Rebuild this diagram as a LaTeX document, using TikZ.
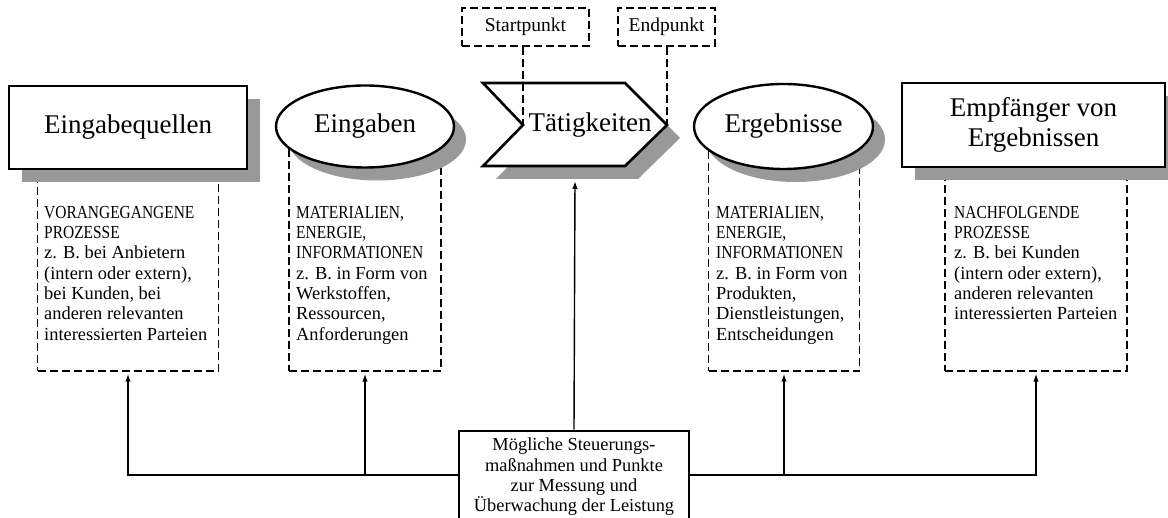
\documentclass[tikz,border=0pt]{standalone}
\usepackage{fontspec}
\setmainfont{Liberation Serif}
\newfontfamily\capfont{Liberation Serif}[FakeStretch=0.84]
\newcommand{\capsline}[1]{{\capfont #1}}
\usetikzlibrary{shadows,arrows.meta,shapes.geometric}
\definecolor{shadowgray}{HTML}{999999}
\tikzset{
  big/.style={font=\fontsize{27}{30}\selectfont},
  small/.style={font=\fontsize{18.4}{20.3}\selectfont},
  mainbox/.style={draw, line width=2.6pt, fill=white, inner sep=0pt, big, align=center,
    drop shadow={shadow xshift=13pt, shadow yshift=-13pt, fill=shadowgray, opacity=1}},
  mainell/.style={ellipse, draw, line width=2.4pt, fill=white, inner sep=0pt, big,
    drop shadow={shadow xshift=12pt, shadow yshift=-13pt, fill=shadowgray, opacity=1}},
  dbox/.style={draw, dash pattern=on 8pt off 4pt, line width=1.3pt, inner sep=0pt},
  sbox/.style={draw, dash pattern=on 8pt off 4pt, line width=1.3pt, inner sep=0pt,
    fill=white, font=\fontsize{19.5}{22}\selectfont},
  dline/.style={dash pattern=on 8pt off 4pt, line width=1.3pt},
  desc/.style={small, align=left, inner sep=0pt, anchor=north west},
  ctrlbox/.style={draw, line width=2.6pt, fill=white, inner sep=0pt, small, align=center,
    minimum width=230pt, minimum height=92pt},
  conn/.style={line width=1.4pt, -{Latex[length=8pt,width=5.5pt]}, shorten >=2pt},
}
\begin{document}
\begin{tikzpicture}[x=1pt,y=-1pt]
\useasboundingbox (0,0) rectangle (1168,518);

% dashed description frames (tops hidden under the shapes)
\node[dbox, minimum width=181pt, minimum height=241pt] (srcd) at (128,250.5) {};
\node[dbox, minimum width=152pt, minimum height=241pt] (ind) at (365,250.5) {};
\node[dbox, minimum width=151pt, minimum height=241pt] (outd) at (784,250.5) {};
\node[dbox, minimum width=182pt, minimum height=241pt] (rcvd) at (1036,250.5) {};

% main shapes
\node[mainbox, minimum width=238pt, minimum height=83pt] (src) at (128,127.5) {Eingabequellen};
\node[mainell, minimum width=178pt, minimum height=82pt] (in) at (365,126.5) {Eingaben};

\fill[shadowgray] (496,96) -- (638,96) -- (680,138) -- (638,179) -- (496,179) -- (536,138) -- cycle;
\draw[line width=2.6pt, fill=white, line join=miter] (483,83) -- (625,83) -- (667,125) -- (625,166) -- (483,166) -- (523,125) -- cycle;
\coordinate (notch) at (523,125);
\coordinate (tip) at (667,125);
\coordinate (actbase) at (575,179);
\node[big, inner sep=0pt] (act) at (590,125) {Tätigkeiten};

\node[mainell, minimum width=179pt, minimum height=85pt] (out) at (783.5,126.5) {Ergebnisse};
\node[mainbox, minimum width=263pt, minimum height=84pt] (rcv) at (1033.5,125) {Empfänger von\\Ergebnissen};

% start / end points
\node[sbox, minimum width=127pt, minimum height=38pt] (start) at (525.5,27) {Startpunkt};
\node[sbox, minimum width=97pt, minimum height=38pt] (end) at (666.5,27) {Endpunkt};
\draw[dline] (start.south -| notch) -- (notch);
\draw[dline] (end.south -| tip) -- (tip);

% descriptions
\node[desc] (srct) at (44,206) {\capsline{VORANGEGANGENE}\\\capsline{PROZESSE}\\z. B. bei Anbietern\\(intern oder extern),\\bei Kunden, bei\\anderen relevanten\\interessierten Parteien};
\node[desc] (int) at (296,206) {\capsline{MATERIALIEN,}\\\capsline{ENERGIE,}\\\capsline{INFORMATIONEN}\\z. B. in Form von\\Werkstoffen,\\Ressourcen,\\Anforderungen};
\node[desc] (outt) at (716,206) {\capsline{MATERIALIEN,}\\\capsline{ENERGIE,}\\\capsline{INFORMATIONEN}\\z. B. in Form von\\Produkten,\\Dienstleistungen,\\Entscheidungen};
\node[desc] (rcvt) at (954,206) {\capsline{NACHFOLGENDE}\\\capsline{PROZESSE}\\z. B. bei Kunden\\(intern oder extern),\\anderen relevanten\\interessierten Parteien};

% control box and connectors
\node[ctrlbox] (ctrl) at (574,477) {Mögliche Steuerungs-\\maßnahmen und Punkte\\zur Messung und\\Überwachung der Leistung};
\coordinate (bus) at (574,475);
\draw[conn] (ctrl.west |- bus) -| (srcd.south);
\draw[conn] (ind.south |- bus) -- (ind.south);
\draw[conn] (ctrl.east |- bus) -| (rcvd.south);
\draw[conn] (outd.south |- bus) -- (outd.south);
\draw[conn] (ctrl.north) -- (actbase);
\end{tikzpicture}
\end{document}
